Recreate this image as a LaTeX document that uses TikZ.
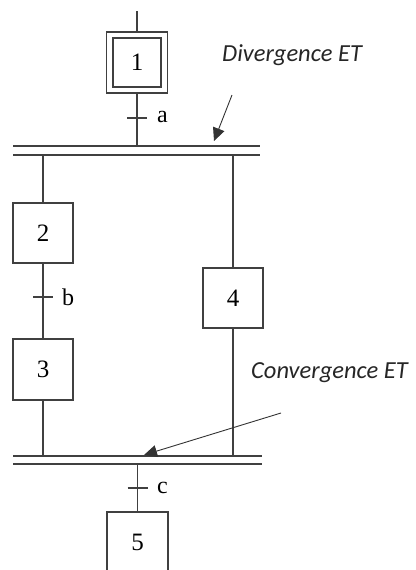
\documentclass[tikz,border=0pt]{standalone}
\usepackage{fontspec}
\setmainfont{Liberation Serif}
\newfontfamily\calib{Carlito}
\usetikzlibrary{arrows.meta}
\begin{document}
\begin{tikzpicture}[x=1pt,y=-1pt,
  ln/.style={line width=1.5pt,draw=black!75},
  stepbox/.style={ln,minimum width=60pt,minimum height=60pt,inner sep=0pt,font=\fontsize{25}{25}\selectfont},
  trlabel/.style={font=\fontsize{24}{24}\selectfont,anchor=west,inner sep=0pt},
  note/.style={font=\calib\itshape\fontsize{24.5}{28}\selectfont,anchor=west,inner sep=0pt,text=black!85},
  pointer/.style={line width=0.9pt,draw=black!80,-{Triangle[length=13pt,width=12pt]}}]
\useasboundingbox (0,0) rectangle (415,570);
\clip (0,0) rectangle (415,570);
% steps
\node[stepbox,minimum width=61pt,minimum height=61pt] (s1) at (137,62.5) {};
\node[stepbox,minimum width=48pt,minimum height=49pt] (s1in) at (137,62.5) {1};
\node[stepbox] (s2) at (43,233) {2};
\node[stepbox,minimum height=61pt] (s3) at (43,369.5) {3};
\node[stepbox] (s4) at (233,298) {4};
\node[stepbox,minimum width=61pt] (s5) at (137.5,542) {5};
% coordinates
\coordinate (top) at (137,11);
\coordinate (dA) at (13,146);
\coordinate (dB) at (260,146);
\coordinate (dC) at (13,155);
\coordinate (dD) at (260,155);
\coordinate (d1) at (137,146);
\coordinate (dL) at (43,155);
\coordinate (dR) at (233,155);
\coordinate (cA) at (13,456);
\coordinate (cB) at (262,456);
\coordinate (cC) at (13,464);
\coordinate (cD) at (262,464);
\coordinate (cL) at (43,456);
\coordinate (cR) at (233,456);
\coordinate (c5) at (137.5,464);
% transitions
\coordinate (ta) at (137,118);
\coordinate (tb) at (43,297);
\coordinate (tc) at (137.5,488);
\node[trlabel] (la) at (157,117) {a};
\node[trlabel] (lb) at (62,297) {b};
\node[trlabel] (lc) at (157,488) {c};
\draw[ln] ([xshift=-10pt]ta) -- ([xshift=10pt]ta);
\draw[ln] ([xshift=-10pt]tb) -- ([xshift=10pt]tb);
\draw[ln] ([xshift=-10pt]tc) -- ([xshift=10pt]tc);
% links
\draw[ln] (top) -- (s1.north);
\draw[ln] (s1.south) -- (d1);
\draw[ln] (dA) -- (dB);
\draw[ln] (dC) -- (dD);
\draw[ln] (dL) -- (s2.north);
\draw[ln] (s2.south) -- (s3.north);
\draw[ln] (dR) -- (s4.north);
\draw[ln] (s3.south) -- (cL);
\draw[ln] (s4.south) -- (cR);
\draw[ln] (cA) -- (cB);
\draw[ln] (cC) -- (cD);
\draw[ln] (c5) -- (s5.north);
% annotations
\node[note] (nd) at (222,55) {Divergence ET};
\node[note] (nc) at (251,373) {Convergence ET};
\coordinate (pd0) at (232,95);
\coordinate (pd1) at (214,141);
\coordinate (pc0) at (281,413);
\coordinate (pc1) at (144,455);
\draw[pointer] (pd0) -- (pd1);
\draw[pointer] (pc0) -- (pc1);
\end{tikzpicture}
\end{document}
